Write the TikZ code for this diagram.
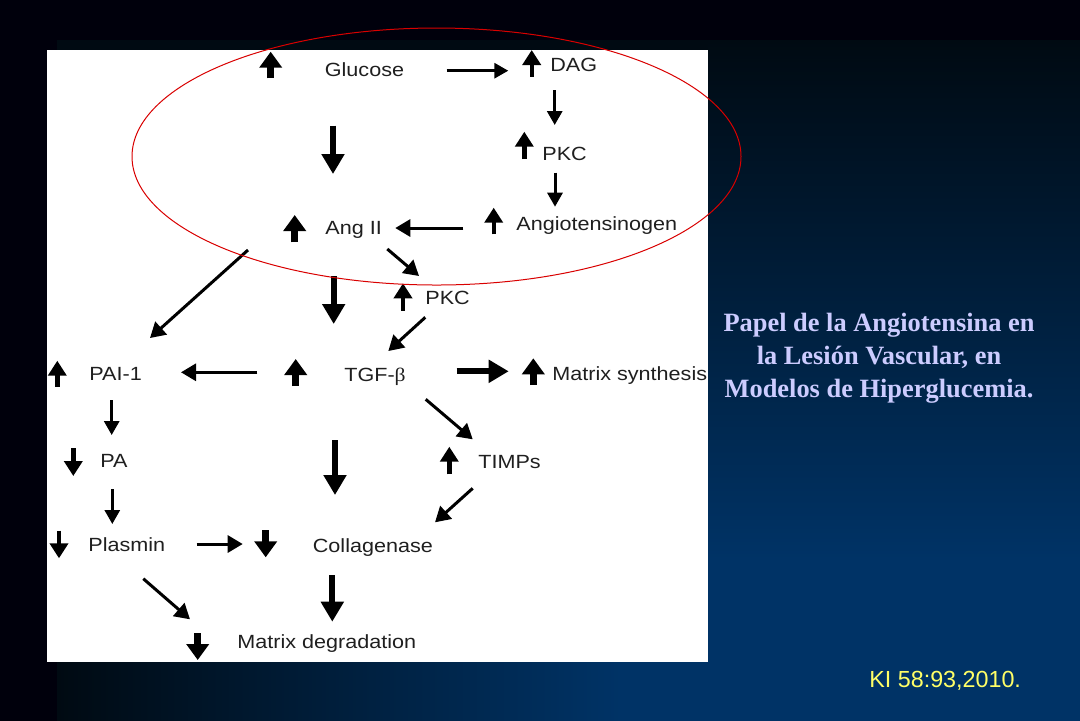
\documentclass[tikz,border=0pt]{standalone}
\usepackage{fontspec}
\setmainfont{Liberation Sans}
\newfontfamily\labelfont[FakeStretch=1.13]{Liberation Sans}
\newfontfamily\greekfont[FakeStretch=1.13]{Liberation Serif}
\newfontfamily\titlefont{Liberation Serif}
\usetikzlibrary{arrows.meta,shadings,shapes.geometric}
\definecolor{titlelav}{HTML}{CCCCFF}
\definecolor{citeyel}{HTML}{FFFF66}
\definecolor{slideblue}{HTML}{003366}
\definecolor{slidedark}{HTML}{000A12}
\definecolor{stripdark}{HTML}{00000C}
\tikzset{
  lab/.style={inner sep=0pt,anchor=base west,font=\labelfont\fontsize{9.55}{11}\selectfont,text=black!88},
  thinarrow/.style={draw=black,line width=1.5pt,-{Triangle[length=7pt,width=7.5pt]}},
  midarrow/.style={draw=black,line width=1.5pt,-{Triangle[length=7.5pt,width=8.5pt]}},
  fatarrow/.style={draw=black,line width=3pt,-{Triangle[length=10pt,width=11pt]}},
  upthin/.style={draw=black,line width=2.2pt,-{Triangle[length=7.5pt,width=9pt]}},
  upfat/.style={draw=black,line width=3.4pt,-{Triangle[length=8pt,width=11pt]}},
}
\begin{document}
\begin{tikzpicture}[x=0.5pt,y=-0.5pt]
\useasboundingbox (0,0) rectangle (1080,720);
% slide background (overdrawn past the page edge so no pale hairline shows)
\fill[stripdark] (-4,-4) rectangle (1084,724);
\fill[slidedark] (57,40) rectangle (708,50);
\shade[top color=slidedark,bottom color=slideblue] (708,40) rectangle (1084,560);
\fill[slideblue] (620,559.5) rectangle (1084,724);
\shade[left color=slidedark,right color=slideblue] (57,662) rectangle (620.5,724);
\fill[white] (47,50) rectangle (708,662);

% labels (placed on their baselines)
\node[lab] (glucose) at (324.5,76) {Glucose};
\node[lab] (dag) at (550,71) {DAG};
\node[lab] (pkca) at (542,160) {PKC};
\node[lab] (angio) at (516,230) {Angiotensinogen};
\node[lab] (angii) at (325,234) {Ang II};
\node[lab] (pkcb) at (425,304) {PKC};
\node[lab] (pai) at (89,380.7) {PAI-1};
\node[lab] (tgf) at (344,381) {TGF-{\greekfont β}};
\node[lab] (msyn) at (552,380) {Matrix synthesis};
\node[lab] (pa) at (100,467.7) {PA};
\node[lab] (timps) at (478,468) {TIMPs};
\node[lab] (plasmin) at (88,551.7) {Plasmin};
\node[lab] (coll) at (312.5,552) {Collagenase};
\node[lab] (mdeg) at (237,648) {Matrix degradation};

% connector end points
\coordinate (glucose-out) at (446.7,70.7);
\coordinate (dag-in) at (508.3,70.7);
\coordinate (dag-out) at (554.7,90);
\coordinate (pkca-in) at (554.7,125);
\coordinate (pkca-out) at (555,172.7);
\coordinate (angio-in) at (555,206.7);
\coordinate (glucose-down) at (333,125.7);
\coordinate (angii-in) at (333,174);
\coordinate (angio-out) at (463.3,228);
\coordinate (angii-in2) at (395.3,228);
\coordinate (angii-out1) at (387.3,249);
\coordinate (pkcb-in) at (419,276);
\coordinate (angii-out2) at (333.7,276);
\coordinate (tgf-in1) at (333.7,324);
\coordinate (pkcb-out) at (425.3,317.3);
\coordinate (tgf-in2) at (388.3,351);
\coordinate (angii-out3) at (248,250);
\coordinate (pai-in1) at (150,338);
\coordinate (tgf-out1) at (257.3,372.3);
\coordinate (pai-in2) at (181,372.3);
\coordinate (tgf-out2) at (456.7,371.3);
\coordinate (msyn-in) at (508.7,371.3);
\coordinate (tgf-out3) at (425.7,399.3);
\coordinate (timps-in) at (472.7,439.3);
\coordinate (tgf-out4) at (335,440);
\coordinate (coll-in1) at (335,495);
\coordinate (timps-out) at (472.7,488.3);
\coordinate (coll-in2) at (435,522.3);
\coordinate (pai-out) at (111.7,400);
\coordinate (pa-in) at (111.7,435);
\coordinate (pa-out) at (112.3,489.3);
\coordinate (plasmin-in) at (112.3,524);
\coordinate (plasmin-out1) at (196.7,544);
\coordinate (coll-in3) at (242.7,544);
\coordinate (plasmin-out2) at (143.3,578.7);
\coordinate (mdeg-in1) at (190,619.3);
\coordinate (coll-out) at (332.3,575);
\coordinate (mdeg-in2) at (332.3,621.7);

% pathway connectors
\draw[thinarrow] (glucose-out) -- (dag-in);
\draw[thinarrow] (dag-out) -- (pkca-in);
\draw[thinarrow] (pkca-out) -- (angio-in);
\draw[fatarrow] (glucose-down) -- (angii-in);
\draw[midarrow] (angio-out) -- (angii-in2);
\draw[midarrow] (angii-out1) -- (pkcb-in);
\draw[fatarrow] (angii-out2) -- (tgf-in1);
\draw[midarrow] (pkcb-out) -- (tgf-in2);
\draw[midarrow] (angii-out3) -- (pai-in1);
\draw[midarrow] (tgf-out1) -- (pai-in2);
\draw[fatarrow] (tgf-out2) -- (msyn-in);
\draw[midarrow] (tgf-out3) -- (timps-in);
\draw[fatarrow] (tgf-out4) -- (coll-in1);
\draw[midarrow] (timps-out) -- (coll-in2);
\draw[thinarrow] (pai-out) -- (pa-in);
\draw[thinarrow] (pa-out) -- (plasmin-in);
\draw[midarrow] (plasmin-out1) -- (coll-in3);
\draw[midarrow] (plasmin-out2) -- (mdeg-in1);
\draw[fatarrow] (coll-out) -- (mdeg-in2);

% up / down indicators beside the labels
\draw[upfat] (270.7,78.3) -- (270.7,51.7);
\draw[upthin] (531.7,76.7) -- (531.7,50);
\draw[upthin] (524.3,159) -- (524.3,131.7);
\draw[upthin] (493.7,234.3) -- (493.7,207.7);
\draw[upfat] (294.7,242.3) -- (294.7,215);
\draw[upthin] (403,310.7) -- (403,283.3);
\draw[upthin] (57.3,386.7) -- (57.3,360.7);
\draw[upfat] (295.7,386) -- (295.7,359);
\draw[upfat] (533.3,385) -- (533.3,358.3);
\draw[upthin] (73.3,448.3) -- (73.3,476);
\draw[upthin] (449.3,474.3) -- (449.3,446.7);
\draw[upthin] (59,530.7) -- (59,558.3);
\draw[upfat] (265.7,530) -- (265.7,557.3);
\draw[upfat] (197.7,633.3) -- (197.7,660);

% highlight ellipse
\node[draw=red!85!black,line width=0.5pt,ellipse,minimum width=304.5pt,minimum height=128.5pt,inner sep=0pt] (focus) at (436.5,156.5) {};

% caption
\node[align=center,text=titlelav,inner sep=0pt,font=\titlefont\bfseries\fontsize{13.2}{16.4}\selectfont] (title) at (879,358)
 {Papel de la Angiotensina en\\la Lesión Vascular, en\\Modelos de Hiperglucemia.};
\node[text=citeyel,inner sep=0pt,anchor=west,font=\fontsize{11.65}{13}\selectfont] (cite) at (869,681) {KI 58:93,2010.};
\end{tikzpicture}
\end{document}
